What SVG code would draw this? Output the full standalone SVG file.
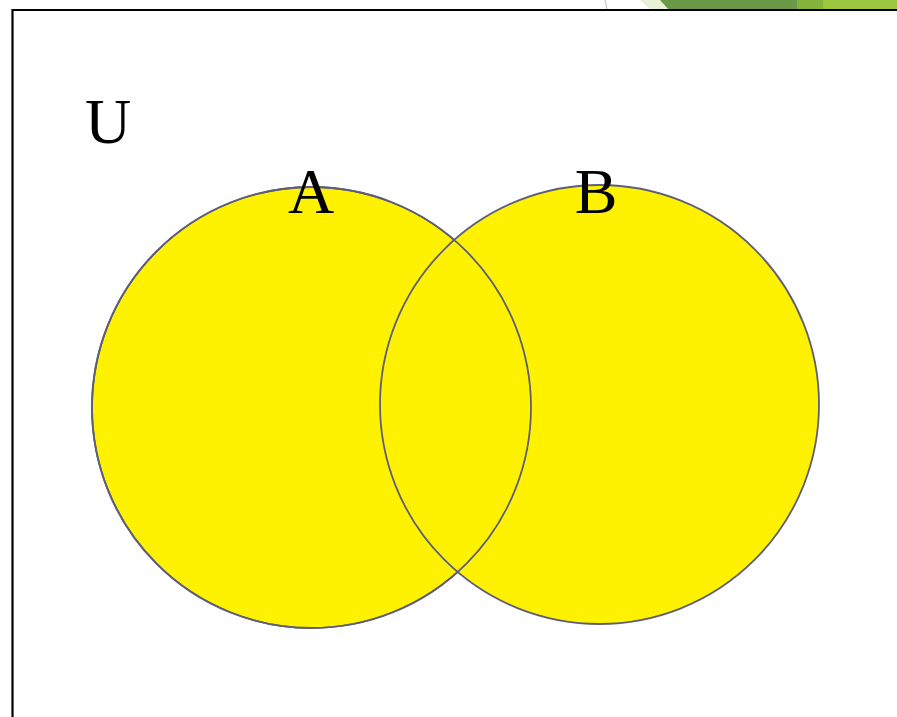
<svg xmlns="http://www.w3.org/2000/svg" width="897" height="717" viewBox="0 0 897 717">
<style>
.set{fill:#fff200;stroke:#5e5e78;stroke-width:1.8}
.outline{fill:none;stroke:#5e5e78;stroke-width:1.8}
.lbl{font-family:"Liberation Serif","Times New Roman",serif;font-size:64px;fill:#000}
</style>
<rect width="897" height="717" fill="#fff"/>
<g id="decoration">
<polygon points="640,0 660,0 668,9 650,9" fill="#e8f0d6"/>
<polygon points="660,0 800,0 800,9 668,9" fill="#6a9a46"/>
<rect x="797" y="0" width="27" height="9" fill="#86b33a"/>
<rect x="823" y="0" width="74" height="9" fill="#9bc63e"/>
<line x1="605" y1="0" x2="607" y2="9" stroke="#bbb" stroke-width="1"/>
</g>
<g id="universe">
<polyline points="12.5,717 12.5,10 897,10" fill="none" stroke="#000" stroke-width="2.2"/>
<text class="lbl" x="85" y="143">U</text>
</g>
<g id="setA">
<ellipse class="set" cx="311.5" cy="407.5" rx="219.5" ry="220.5"/>
</g>
<g id="setB">
<ellipse class="set" cx="599.5" cy="404.5" rx="219.5" ry="219.5"/>
</g>
<g id="setA-outline">
<ellipse class="outline" cx="311.5" cy="407.5" rx="219.5" ry="220.5"/>
</g>
<g id="labels">
<text class="lbl" x="311" y="213" text-anchor="middle">A</text>
<text class="lbl" x="596" y="213" text-anchor="middle">B</text>
</g>
</svg>
